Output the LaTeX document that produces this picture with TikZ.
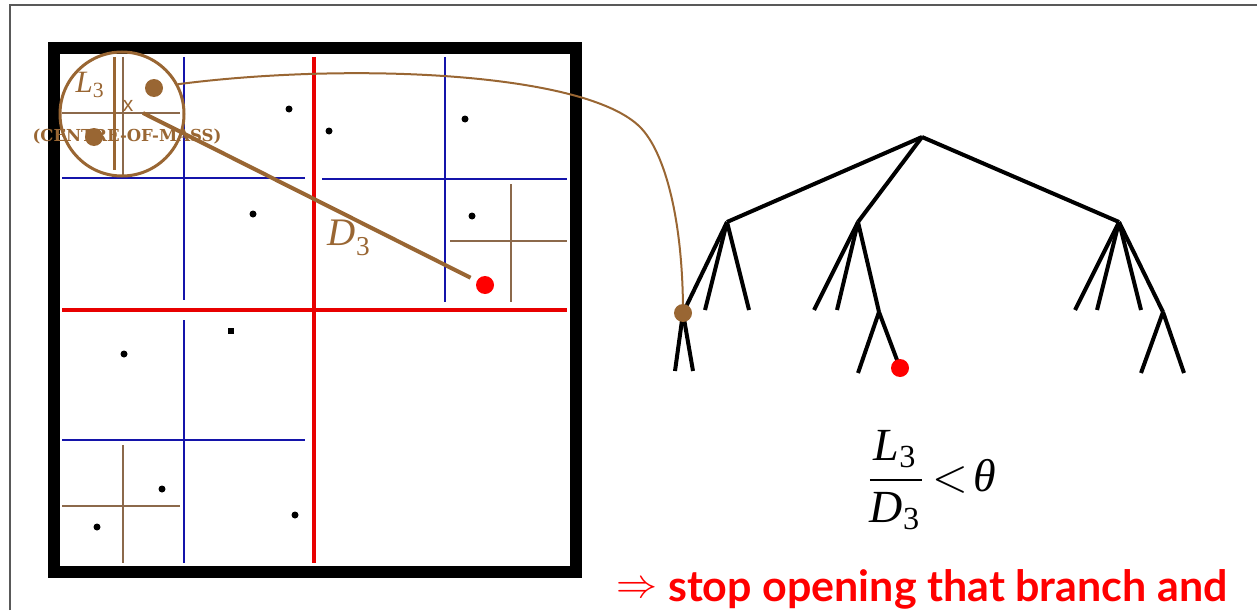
\documentclass[tikz,border=0pt]{standalone}
\usepackage{fontspec}
\usepackage{amsmath}
\setmainfont{Liberation Serif}
\newfontfamily\gillfont{Lato}
\newfontfamily\copperfont{DejaVu Serif}
\newfontfamily\sansx{Liberation Sans}
\definecolor{brn}{RGB}{153,102,51}
\definecolor{thinbrn}{RGB}{140,105,75}
\definecolor{navy}{RGB}{20,20,170}
\definecolor{rd}{RGB}{232,0,0}
\begin{document}
\begin{tikzpicture}[x=1pt,y=-1pt,
  boxframe/.style={line width=12pt},
  redline/.style={draw=rd,line width=4.5pt},
  blueline/.style={draw=navy,line width=2pt},
  thinbrown/.style={draw=thinbrn,line width=1.3pt},
  pt/.style={circle,fill=black,inner sep=0pt,minimum size=7pt},
  bigdot/.style={circle,inner sep=0pt,minimum size=18pt},
  treeline/.style={line width=4pt,line cap=butt}
]
\useasboundingbox (0,0) rectangle (1257,610);
\draw[gray!70!black,line width=1.5pt] (10,610) -- (10,5) -- (1257,5);
% outer box
\draw[boxframe] (54,48) rectangle (576,572);
% red split
\draw[redline] (314,57) -- (314,563);
\draw[redline] (62,310) -- (567,310);
% blue splits
\draw[blueline] (62,178) -- (305,178);
\draw[blueline] (184,57) -- (184,300);
\draw[blueline] (445,57) -- (445,302);
\draw[blueline] (322,179) -- (567,179);
\draw[blueline] (184,320) -- (184,563);
\draw[blueline] (62,440) -- (305,440);
% thin brown splits
\draw[thinbrown] (511,184) -- (511,302);
\draw[thinbrown] (450,241) -- (567,241);
\draw[thinbrown] (123,445) -- (123,563);
\draw[thinbrown] (62,506) -- (180,506);
\draw[thinbrown] (62,113) -- (180,113);
\draw[thinbrown] (123,57) -- (123,177);
\draw[draw=brn,line width=3pt] (114,57) -- (114,170);
% particles
\node[pt] (p1) at (289,109) {};
\node[pt] (p2) at (329,131) {};
\node[pt] (p3) at (465,119) {};
\node[pt] (p4) at (253,214) {};
\node[pt] (p5) at (472,216) {};
\node[pt] (p6) at (124,354) {};
\node[fill=black,inner sep=0pt,minimum size=6pt] (p7) at (231,331) {};
\node[pt] (p8) at (162,489) {};
\node[pt] (p9) at (97,527) {};
\node[pt] (p10) at (295,515) {};
% circle and centre of mass
\node[circle,draw=brn,line width=3pt,minimum size=124pt,inner sep=0pt] (com) at (122,114) {};
\node[bigdot,fill=brn] (m1) at (154,88) {};
\node[bigdot,fill=brn] (m2) at (94,137) {};
\node[text=brn,font=\sansx\fontsize{21}{21}\selectfont] (cx) at (128,106) {x};
\node[text=brn,font=\fontsize{31}{31}\selectfont] (l3) at (90,85) {$\textit{L}_{\text{3}}$};
\node[text=brn,font=\copperfont\bfseries\fontsize{16.5}{17}\selectfont] (cmlabel) at (127,137) {(CENTRE-OF-MASS)};
\coordinate (cm) at (143,113);
% target particle
\node[bigdot,fill=red] (target) at (485,285) {};
\draw[draw=brn,line width=4pt,shorten >=7pt] (cm) -- (target);
\node[text=brn,font=\fontsize{39}{39}\selectfont] (d3) at (349,238) {$\textit{D}_{\text{3}}$};
% tree
\coordinate (root) at (922,137);
\coordinate (n1) at (727,222);
\coordinate (n2) at (858,222);
\coordinate (n3) at (1119,222);
\coordinate (l12) at (705,310);
\coordinate (l13) at (749,310);
\coordinate (b1) at (675,371);
\coordinate (b2) at (693,371);
\coordinate (l21) at (814,310);
\coordinate (l22) at (837,310);
\coordinate (n2s) at (879,312);
\coordinate (l2s1) at (858,373);
\coordinate (l31) at (1075,310);
\coordinate (l32) at (1097,310);
\coordinate (l33) at (1141,310);
\coordinate (n3s) at (1163,312);
\coordinate (l3s1) at (1141,373);
\coordinate (l3s2) at (1184,373);
\node[bigdot] (bd) at (683,313) {};
\node[bigdot] (rdot) at (900,368) {};
\draw[treeline] (root) -- (n1);
\draw[treeline] (root) -- (n2);
\draw[treeline] (root) -- (n3);
\draw[treeline] (n1) -- (bd.center);
\draw[treeline] (n1) -- (l12);
\draw[treeline] (n1) -- (l13);
\draw[treeline] (bd.center) -- (b1);
\draw[treeline] (bd.center) -- (b2);
\draw[treeline] (n2) -- (l21);
\draw[treeline] (n2) -- (l22);
\draw[treeline] (n2) -- (n2s);
\draw[treeline] (n2s) -- (l2s1);
\draw[treeline] (n2s) -- (rdot.center);
\draw[treeline] (n3) -- (l31);
\draw[treeline] (n3) -- (l32);
\draw[treeline] (n3) -- (l33);
\draw[treeline] (n3) -- (n3s);
\draw[treeline] (n3s) -- (l3s1);
\draw[treeline] (n3s) -- (l3s2);
\fill[brn] (bd) circle (9pt);
\fill[red] (rdot) circle (9pt);
% connecting curve
\coordinate (bend) at (640,127);
\draw[draw=brn,line width=2pt] (com.28) .. controls (350,62) and (585,72) .. (bend)
  .. controls (665,152) and (683,220) .. (bd.center);
% formula
\node[scale=4.6] (frac) at (930,480) {$\dfrac{\textit{L}_{\text{3}}}{\textit{D}_{\text{3}}} \mathrel{\!<\!} \textit{θ}$};
% bottom text
\node[scale=4.1,text=red] (arr) at (637,590) {$\Rightarrow$};
\node[anchor=base west,text=red,inner sep=0pt,font=\gillfont\bfseries\fontsize{43}{48}\selectfont] (stop) at (668,601) {stop opening that branch and};
\end{tikzpicture}
\end{document}
